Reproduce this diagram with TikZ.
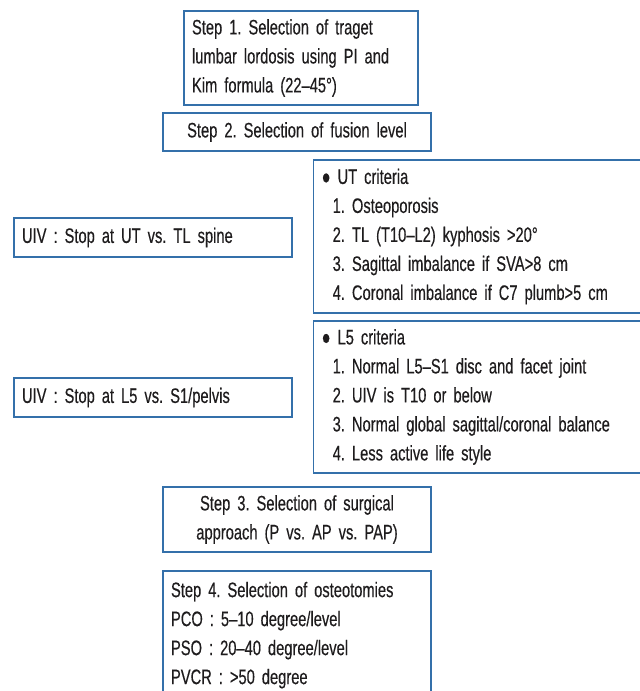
\documentclass[tikz,border=0pt]{standalone}
\usepackage{fontspec}
\setmainfont[FakeStretch=0.70,FakeBold=0.35]{Liberation Sans}
\definecolor{boxblue}{RGB}{52,112,170}
\definecolor{txt}{RGB}{30,28,29}
\newcommand{\crit}{\hspace*{11pt}}
\frenchspacing
\begin{document}
\begin{tikzpicture}[x=1pt,y=-1pt]
\tikzstyle{every node}=[draw=boxblue,line width=1.4pt,shape=rectangle,inner xsep=8pt,inner ysep=0pt,text=txt,font=\fontsize{21}{29}\selectfont];
\path[use as bounding box,clip] (0,0) rectangle (640,691);
\path (301,58) node[text width=218pt,align=left,minimum height=94pt] (step1) {Step 1. Selection of traget\\lumbar lordosis using PI and\\Kim formula (22--45°)};
\path (297,132) node[text width=252pt,align=center,minimum height=38pt] (step2) {Step 2. Selection of fusion level};
\path (313,236.5) node[anchor=west,text width=384pt,align=left,minimum height=153pt] (ut) {● UT criteria\\\crit 1. Osteoporosis\\\crit 2. TL (T10--L2) kyphosis >20°\\\crit 3. Sagittal imbalance if SVA>8 cm\\\crit 4. Coronal imbalance if C7 plumb>5 cm};
\path (153,237.5) node[text width=262pt,align=left,minimum height=39pt] (uiv1) {UIV : Stop at UT vs. TL spine};
\path (313,397) node[anchor=west,text width=384pt,align=left,minimum height=152pt] (l5) {● L5 criteria\\\crit 1. Normal L5--S1 disc and facet joint\\\crit 2. UIV is T10 or below\\\crit 3. Normal global sagittal/coronal balance\\\crit 4. Less active life style};
\path (153,397.5) node[text width=262pt,align=left,minimum height=39pt] (uiv2) {UIV : Stop at L5 vs. S1/pelvis};
\path (297,519.5) node[text width=252pt,align=center,minimum height=65pt] (step3) {Step 3. Selection of surgical\\approach (P vs. AP vs. PAP)};
\path (297,641) node[draw=boxblue,text width=252pt,align=left,minimum height=140pt] (step4) {Step 4. Selection of osteotomies\\PCO : 5--10 degree/level\\PSO : 20--40 degree/level\\PVCR : >50 degree\rule[-16pt]{0pt}{0pt}};
\end{tikzpicture}
\end{document}
